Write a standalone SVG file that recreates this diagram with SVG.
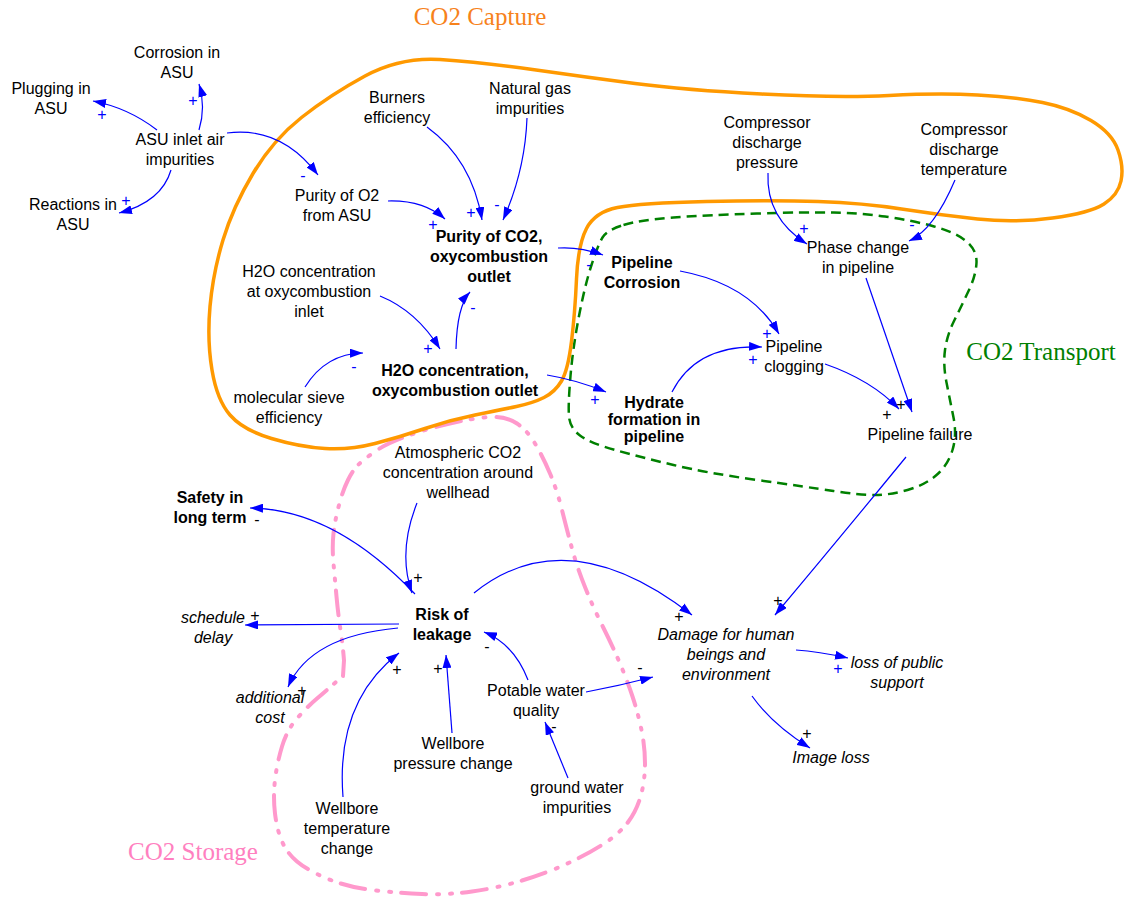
<svg xmlns="http://www.w3.org/2000/svg" width="1126" height="897" viewBox="0 0 1126 897">
<style>
.t{font-family:"Liberation Sans",Arial,sans-serif;font-size:16px;fill:#000;text-anchor:middle}
.b{font-weight:bold}
.i{font-style:italic}
.pb{font-family:"Liberation Sans",Arial,sans-serif;font-size:16px;fill:#0000ff;text-anchor:middle}
.pk{font-family:"Liberation Sans",Arial,sans-serif;font-size:16px;fill:#000;text-anchor:middle}
.c{fill:none;stroke:#0000ff;stroke-width:1.2;marker-end:url(#ah)}
.grp{font-family:"Liberation Serif","Times New Roman",serif;font-size:25px;text-anchor:middle}
</style>
<defs>
<marker id="ah" viewBox="0 0 13 9" refX="13" refY="4.5" markerWidth="13" markerHeight="9" markerUnits="userSpaceOnUse" orient="auto"><path d="M0,0 L13,4.5 L0,9 z" fill="#0000ff"/></marker>
</defs>
<rect width="1126" height="897" fill="#fff"/>
<g id="boundaries">
<path id="storage" fill="none" stroke="#ff99cc" stroke-width="4" stroke-linecap="round" stroke-dasharray="25 10 2 11 2 11" d="M 343,676 L 344,660.5 Q 343,647 340.5,630 Q 338,613 336.5,596.5 Q 335,580 333.5,563.5 Q 332,547 333.5,533.5 Q 335,520 339,505 Q 343,490 348,480 Q 353,470 358,465 Q 363,460 375,451.5 Q 387,443 410,435 Q 433,427 456.5,422 Q 480,417 493.5,417 Q 507,417 517,423.5 Q 527,430 535,443.5 Q 543,457 550,473.5 Q 557,490 562,510 Q 567,530 572,548.5 Q 577,567 585,587 Q 593,607 603,627 Q 613,647 620,663.5 Q 627,680 632.5,696.5 Q 638,713 641.5,730 Q 645,747 645,763.5 Q 645,780 641,795 Q 637,810 628.5,821.5 Q 620,833 605,843 Q 590,853 568.5,863 Q 547,873 522,880.5 Q 497,888 472,891.5 Q 447,895 422,894 Q 397,893 372,890 Q 347,887 327,878.5 Q 307,870 297,861.5 Q 287,853 282,841.5 Q 277,830 275,813.5 Q 273,797 275,780 Q 277,763 282,746.5 Q 287,730 297,718.5 Q 307,707 317,698.5 Q 327,690 336,682 L 343,676"/>
<path id="transport" fill="none" stroke="#008000" stroke-width="2.5" stroke-dasharray="10 6" d="M 623.5,225 Q 640,220 673.5,217.5 Q 707,215 757,213.5 Q 807,212 833.5,212.5 Q 860,213 885,216.5 Q 910,220 932.5,226 Q 955,232 966,241 Q 977,250 976.5,262.5 Q 976,275 969,290 Q 962,305 954.5,320 Q 947,335 945,350 Q 943,365 946.5,382.5 Q 950,400 953.5,417.5 Q 957,435 952.5,450 Q 948,465 936.5,475 Q 925,485 907.5,490 Q 890,495 875,495 Q 860,495 833.5,491 Q 807,487 757,480 Q 707,473 673.5,465 Q 640,457 615,450 Q 590,443 580,435.5 Q 570,428 569,416.5 Q 568,405 570.5,376 Q 573,347 579,316 Q 585,285 591.5,265 Q 598,245 602.5,237.5 Q 607,230 623.5,225 Z"/>
<path id="capture" fill="none" stroke="#ff9900" stroke-width="3.5" d="M 440,59.5 Q 480,62 532.5,69.5 Q 585,77 635,83.5 Q 685,90 761.5,94 Q 838,98 889,95.5 Q 940,93 977.5,95 Q 1015,97 1042.5,102.5 Q 1070,108 1091,120.5 Q 1112,133 1118,150 Q 1124,167 1121,181 Q 1118,195 1104,204 Q 1090,213 1052.5,218 Q 1015,223 977.5,219 Q 940,215 901.5,209 Q 863,203 818,201.5 Q 773,200 706.5,201.5 Q 640,203 617.5,207.5 Q 595,212 586.5,228.5 Q 578,245 576.5,279 Q 575,313 571.5,341.5 Q 568,370 561.5,381 Q 555,392 544,397.5 Q 533,403 516.5,406.5 Q 500,410 475,415 Q 450,420 425,428.5 Q 400,437 375,443.5 Q 350,450 325,448.5 Q 300,447 271.5,438.5 Q 243,430 230,415 Q 217,400 212,370 Q 207,340 210,306.5 Q 213,273 223,240 Q 233,207 253,173.5 Q 273,140 301.5,117.5 Q 330,95 365,76 Q 400,57 440,59.5 Z"/>
<text class="grp" x="480" y="25" fill="#f7821b">CO2 Capture</text>
<text class="grp" x="1041" y="360" fill="#008000">CO2 Transport</text>
<text class="grp" x="193" y="860" fill="#ff80c0">CO2 Storage</text>
</g>
<g id="connectors">
<path class="c" d="M157,130 Q128.4,107.9 93,101"/>
<path class="c" d="M199,130 Q206,107 199,84"/>
<path class="c" d="M171,170 Q161.6,201.9 119,213"/>
<path class="c" d="M227,133 Q280.9,126 318,175"/>
<path class="c" d="M427,127 Q472.1,159.9 482,220"/>
<path class="c" d="M527,118 Q525,171 503,220"/>
<path class="c" d="M388,201 Q423.5,200 445,219"/>
<path class="c" d="M380,296 Q416.6,310.9 440,349"/>
<path class="c" d="M305,387 Q326,353.4 363,353"/>
<path class="c" d="M456,349 Q457,306.1 470,292"/>
<path class="c" d="M558,248 Q579.5,246.5 603,255"/>
<path class="c" d="M547,375 Q576.9,379.9 606,392"/>
<path class="c" d="M680,271 Q750.5,284.1 779,334"/>
<path class="c" d="M672,392 Q696.4,343.9 762,347"/>
<path class="c" d="M825,364 Q871.4,380.1 899,409"/>
<path class="c" d="M866,278 L912,412"/>
<path class="c" d="M768,173 Q765.9,218.1 807,244"/>
<path class="c" d="M955,180 Q934,229.5 909,241"/>
<path class="c" d="M906,457 Q838,540 775,615"/>
<path class="c" d="M415,594 Q334.1,509 250,508"/>
<path class="c" d="M417,503 Q397.5,552 412,593"/>
<path class="c" d="M399,624 L245,625"/>
<path class="c" d="M398,628 Q310.4,635.9 288,687"/>
<path class="c" d="M343,797 Q335.6,701.6 399,653"/>
<path class="c" d="M452,733 L446,655"/>
<path class="c" d="M528,680 Q514,644 484,632"/>
<path class="c" d="M586,692 Q620.5,685.5 653,677"/>
<path class="c" d="M568,778 L545,722"/>
<path class="c" d="M474,593 Q567,518 692,615"/>
<path class="c" d="M796,650 Q818,651.4 848,658"/>
<path class="c" d="M752,696 Q772.4,724.6 810,748"/>
</g>
<g id="polarities">
<text class="pb" x="102" y="120">+</text>
<text class="pb" x="193" y="106">+</text>
<text class="pb" x="126" y="206">+</text>
<text class="pb" x="303" y="181">-</text>
<text class="pb" x="471" y="218">+</text>
<text class="pb" x="497" y="210">-</text>
<text class="pb" x="433" y="230">+</text>
<text class="pb" x="428" y="354">+</text>
<text class="pb" x="354" y="372">-</text>
<text class="pb" x="473" y="313">-</text>
<text class="pb" x="589" y="270">-</text>
<text class="pb" x="595" y="405">+</text>
<text class="pb" x="767" y="339">+</text>
<text class="pb" x="753" y="365">+</text>
<text class="pk" x="887" y="420">+</text>
<text class="pk" x="901" y="410">+</text>
<text class="pb" x="804" y="234">+</text>
<text class="pb" x="912" y="230">-</text>
<text class="pk" x="778" y="606">+</text>
<text class="pk" x="257" y="525">-</text>
<text class="pk" x="418" y="583">+</text>
<text class="pk" x="255" y="621">+</text>
<text class="pk" x="302" y="696">+</text>
<text class="pk" x="397" y="675">+</text>
<text class="pk" x="438" y="674">+</text>
<text class="pk" x="487" y="652">-</text>
<text class="pk" x="640" y="673">-</text>
<text class="pk" x="554" y="732">-</text>
<text class="pk" x="679" y="622">+</text>
<text class="pb" x="838" y="674">+</text>
<text class="pk" x="807" y="739">+</text>
</g>
<g id="n_corrosion_asu"><text class="t" x="177" y="58">Corrosion in<tspan x="177" dy="20">ASU</tspan></text></g>
<g id="n_plugging_asu"><text class="t" x="51" y="94">Plugging in<tspan x="51" dy="20">ASU</tspan></text></g>
<g id="n_asu_inlet"><text class="t" x="180" y="145">ASU inlet air<tspan x="180" dy="20">impurities</tspan></text></g>
<g id="n_reactions_asu"><text class="t" x="73" y="210">Reactions in<tspan x="73" dy="20">ASU</tspan></text></g>
<g id="n_purity_o2"><text class="t" x="337" y="201">Purity of O2<tspan x="337" dy="20">from ASU</tspan></text></g>
<g id="n_burners"><text class="t" x="397" y="103">Burners<tspan x="397" dy="20">efficiency</tspan></text></g>
<g id="n_natgas"><text class="t" x="530" y="94">Natural gas<tspan x="530" dy="20">impurities</tspan></text></g>
<g id="n_purity_co2"><text class="t b" x="489" y="242">Purity of CO2,<tspan x="489" dy="20">oxycombustion</tspan><tspan x="489" dy="20">outlet</tspan></text></g>
<g id="n_h2o_inlet"><text class="t" x="309" y="277">H2O concentration<tspan x="309" dy="20">at oxycombustion</tspan><tspan x="309" dy="20">inlet</tspan></text></g>
<g id="n_h2o_outlet"><text class="t b" x="455" y="376">H2O concentration,<tspan x="455" dy="20">oxycombustion outlet</tspan></text></g>
<g id="n_sieve"><text class="t" x="289" y="403">molecular sieve<tspan x="289" dy="20">efficiency</tspan></text></g>
<g id="n_comp_pressure"><text class="t" x="767" y="128">Compressor<tspan x="767" dy="20">discharge</tspan><tspan x="767" dy="20">pressure</tspan></text></g>
<g id="n_comp_temperature"><text class="t" x="964" y="135">Compressor<tspan x="964" dy="20">discharge</tspan><tspan x="964" dy="20">temperature</tspan></text></g>
<g id="n_phase_change"><text class="t" x="858" y="253">Phase change<tspan x="858" dy="20">in pipeline</tspan></text></g>
<g id="n_pipeline_corrosion"><text class="t b" x="642" y="268">Pipeline<tspan x="642" dy="20">Corrosion</tspan></text></g>
<g id="n_clogging"><text class="t" x="794" y="352">Pipeline<tspan x="794" dy="20">clogging</tspan></text></g>
<g id="n_hydrate"><text class="t b" x="654" y="408">Hydrate<tspan x="654" dy="17">formation in</tspan><tspan x="654" dy="17">pipeline</tspan></text></g>
<g id="n_failure"><text class="t" x="920" y="440">Pipeline failure</text></g>
<g id="n_atmospheric"><text class="t" x="458" y="458">Atmospheric CO2<tspan x="458" dy="20">concentration around</tspan><tspan x="458" dy="20">wellhead</tspan></text></g>
<g id="n_safety"><text class="t b" x="210" y="503">Safety in<tspan x="210" dy="20">long term</tspan></text></g>
<g id="n_risk"><text class="t b" x="442" y="620">Risk of<tspan x="442" dy="20">leakage</tspan></text></g>
<g id="n_schedule"><text class="t i" x="213" y="623">schedule<tspan x="213" dy="20">delay</tspan></text></g>
<g id="n_additional"><text class="t i" x="270" y="703">additional<tspan x="270" dy="20">cost</tspan></text></g>
<g id="n_wb_pressure"><text class="t" x="453" y="749">Wellbore<tspan x="453" dy="20">pressure change</tspan></text></g>
<g id="n_potable"><text class="t" x="536" y="696">Potable water<tspan x="536" dy="20">quality</tspan></text></g>
<g id="n_groundwater"><text class="t" x="577" y="793">ground water<tspan x="577" dy="20">impurities</tspan></text></g>
<g id="n_wb_temperature"><text class="t" x="347" y="814">Wellbore<tspan x="347" dy="20">temperature</tspan><tspan x="347" dy="20">change</tspan></text></g>
<g id="n_damage"><text class="t i" x="726" y="640">Damage for human<tspan x="726" dy="20">beings and</tspan><tspan x="726" dy="20">environment</tspan></text></g>
<g id="n_public_support"><text class="t i" x="897" y="668">loss of public<tspan x="897" dy="20">support</tspan></text></g>
<g id="n_image_loss"><text class="t i" x="831" y="763">Image loss</text></g>
</svg>
